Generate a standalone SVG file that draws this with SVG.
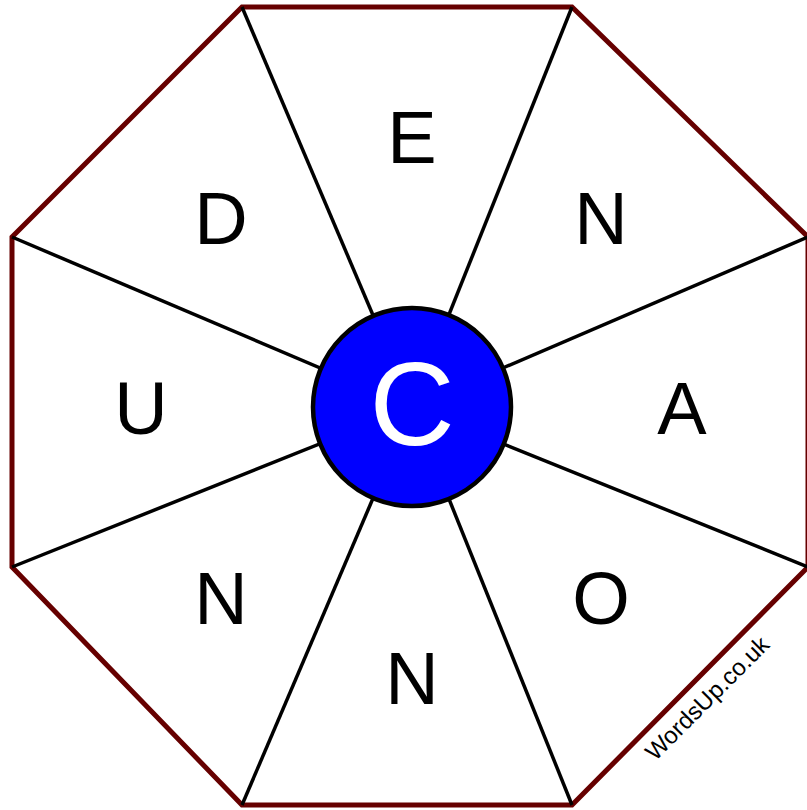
<svg xmlns="http://www.w3.org/2000/svg" width="807" height="810" viewBox="0 0 807 810">
<style>
.spoke{stroke:#000;stroke-width:3.5;fill:none}
.letter{font-family:"Liberation Sans",Arial,sans-serif;font-size:74px;fill:#000;text-anchor:middle}
</style>
<rect width="807" height="810" fill="#fff"/>
<g id="octagon">
<polygon points="242,7 572,7 808,237 808,567 572,805 242,805 12,567 12,237" fill="#fff" stroke="#660000" stroke-width="5" stroke-linejoin="miter"/>
</g>
<g id="connectors">
<line class="spoke" x1="242" y1="7" x2="412" y2="407"/>
<line class="spoke" x1="572" y1="7" x2="412" y2="407"/>
<line class="spoke" x1="808" y1="237" x2="412" y2="407"/>
<line class="spoke" x1="808" y1="567" x2="412" y2="407"/>
<line class="spoke" x1="572" y1="805" x2="412" y2="407"/>
<line class="spoke" x1="242" y1="805" x2="412" y2="407"/>
<line class="spoke" x1="12" y1="567" x2="412" y2="407"/>
<line class="spoke" x1="12" y1="237" x2="412" y2="407"/>
</g>
<g id="center">
<circle cx="412" cy="407" r="99" fill="#0000ff" stroke="#000" stroke-width="4.5"/>
<text x="412" y="445" font-family="Liberation Sans,Arial,sans-serif" font-size="118" fill="#fff" text-anchor="middle">C</text>
</g>
<g id="letter-E"><text class="letter" x="412" y="163">E</text></g>
<g id="letter-N1"><text class="letter" x="601" y="244">N</text></g>
<g id="letter-A"><text class="letter" x="682" y="434">A</text></g>
<g id="letter-O"><text class="letter" x="601" y="624">O</text></g>
<g id="letter-N2"><text class="letter" x="412" y="704">N</text></g>
<g id="letter-N3"><text class="letter" x="221" y="624">N</text></g>
<g id="letter-U"><text class="letter" x="141" y="434">U</text></g>
<g id="letter-D"><text class="letter" x="221" y="244">D</text></g>
<g id="watermark">
<text x="0" y="0" transform="translate(713,704) rotate(-45)" font-family="Liberation Sans,Arial,sans-serif" font-size="24" fill="#000" text-anchor="middle">WordsUp.co.uk</text>
</g>
</svg>
